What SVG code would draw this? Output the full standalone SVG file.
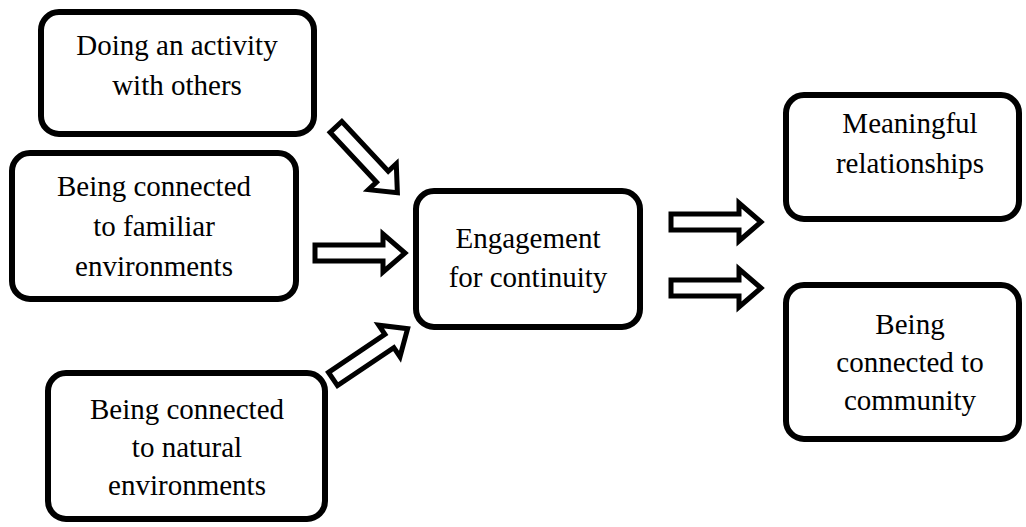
<svg xmlns="http://www.w3.org/2000/svg" width="1026" height="527" viewBox="0 0 1026 527">
<style>
.box{fill:#fff;stroke:#000;stroke-width:6}
.t{font-family:'Liberation Serif','Times New Roman',serif;font-size:29px;fill:#000;text-anchor:middle}
.arr{fill:#fff;stroke:#000;stroke-width:5;stroke-linejoin:miter}
</style>
<defs>
<path id="blk" d="M0,-8 H68 V-19 L90,0 L68,19 V8 H0 Z"/>
</defs>
<rect width="1026" height="527" fill="#fff"/>
<g id="connectors">
<use href="#blk" class="arr" transform="translate(336,127) rotate(47)"/>
<use href="#blk" class="arr" transform="translate(315,253)"/>
<use href="#blk" class="arr" transform="translate(333,379) rotate(-34)"/>
<use href="#blk" class="arr" transform="translate(671,222)"/>
<use href="#blk" class="arr" transform="translate(671,288)"/>
</g>
<g id="n1">
<rect class="box" x="41" y="12" width="273" height="122" rx="18"/>
<text class="t" x="177" y="55">Doing an activity</text>
<text class="t" x="177" y="95">with others</text>
</g>
<g id="n2">
<rect class="box" x="12" y="153" width="284" height="146" rx="18"/>
<text class="t" x="154" y="196">Being connected</text>
<text class="t" x="154" y="236">to familiar</text>
<text class="t" x="154" y="276">environments</text>
</g>
<g id="n3">
<rect class="box" x="48" y="373" width="277" height="146" rx="18"/>
<text class="t" x="187" y="419">Being connected</text>
<text class="t" x="187" y="457">to natural</text>
<text class="t" x="187" y="495">environments</text>
</g>
<g id="center">
<rect class="box" x="416" y="191" width="224" height="136" rx="18"/>
<text class="t" x="528" y="248">Engagement</text>
<text class="t" x="528" y="287">for continuity</text>
</g>
<g id="r1">
<rect class="box" x="786" y="95" width="233" height="124" rx="18"/>
<text class="t" x="910" y="133">Meaningful</text>
<text class="t" x="910" y="173">relationships</text>
</g>
<g id="r2">
<rect class="box" x="786" y="285" width="233" height="154" rx="18"/>
<text class="t" x="910" y="334">Being</text>
<text class="t" x="910" y="372">connected to</text>
<text class="t" x="910" y="410">community</text>
</g>
</svg>
